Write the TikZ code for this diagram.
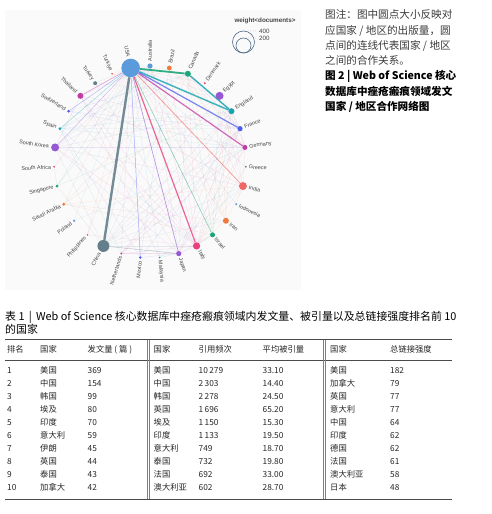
\documentclass[tikz,border=0pt]{standalone}
\usepackage{fontspec}
\setmainfont{Noto Sans CJK SC}
\newfontfamily\labfont{Liberation Sans}

\definecolor{cA}{HTML}{5B9BDC}
\definecolor{cB}{HTML}{EE7B3C}
\definecolor{cC}{HTML}{1BA677}
\definecolor{cD}{HTML}{E8407A}
\definecolor{cE}{HTML}{9559D3}
\definecolor{cF}{HTML}{17A3AF}
\definecolor{cG}{HTML}{4D5CF0}
\definecolor{cH}{HTML}{C13BA4}
\definecolor{cI}{HTML}{647F8B}
\definecolor{cJ}{HTML}{EF6866}
\definecolor{labgray}{HTML}{444444}
\definecolor{legblue}{HTML}{3E5F82}
\definecolor{panelgray}{HTML}{FAFAFA}
\definecolor{notegray}{HTML}{3A3A3A}
\definecolor{rulegray}{HTML}{4A4A4A}

\pgfdeclarelayer{panel}
\pgfdeclarelayer{links}
\pgfsetlayers{panel,links,main}

\tikzset{
  country/.style={circle, inner sep=0pt, draw=none},
  clabel/.style={font=\labfont\fontsize{5.4}{6}\selectfont, text=labgray, inner sep=0pt},
  web/.style={line width=0.32pt, draw opacity=0.15},
  legring/.style={circle, draw=legblue, line width=0.55pt, inner sep=0pt},
  note/.style={font=\fontsize{10.6}{12}\selectfont, text=notegray, inner sep=0pt, anchor=base west},
  figtitle/.style={note, font=\bfseries\fontsize{10.6}{12}\selectfont, text=black},
  tabcap/.style={font=\fontsize{10.9}{12}\selectfont, text=black, inner sep=0pt, anchor=base west},
  cell/.style={font=\fontsize{8.3}{10}\selectfont, text=black!85, inner sep=0pt, anchor=base west},
  hrule/.style={draw=rulegray, line width=0.9pt},
  vrule/.style={draw=gray, line width=0.5pt},
}

\begin{document}
\begin{tikzpicture}[x=1pt,y=1pt]
    \useasboundingbox (0,0) rectangle (491,-514);

    % Panel behind the network
    \begin{pgfonlayer}{panel}
        \fill[panelgray] (5,-10) rectangle (301,-290);
    \end{pgfonlayer}

    % Countries on the circle
    \begin{scope}[shift={(150,-162)}]
        \foreach \k/\txt/\c/\s [count=\i from 0] in {
            aus/Australia/cA/2.6, bra/Brazil/cB/2.4, can/Canada/cC/3.0,
            den/Denmark/cD/1.1, egy/Egypt/cE/4.0, eng/England/cF/3.0,
            fra/France/cG/2.6, ger/Germany/cH/2.5, gre/Greece/cI/1.0,
            ind/India/cJ/4.0, idn/Indonesia/cA/1.1, irn/Iran/cB/3.0,
            isr/Israel/cC/2.5, ita/Italy/cD/3.6, jpn/Japan/cE/2.6,
            mys/Malaysia/cF/1.0, mex/Mexico/cG/1.3, nld/Netherlands/cH/1.1,
            chn/China/cI/6.0, phl/Philippines/cJ/1.0, pol/Poland/cA/1.3,
            sau/Saudi Arabia/cB/1.6, sgp/Singapore/cC/1.6, zaf/South Africa/cD/1.0,
            kor/South Korea/cE/4.0, esp/Spain/cF/1.6, che/Switzerland/cG/1.5,
            tha/Thailand/cH/3.0, tur/Turkey/cI/2.0, tki/Turkiye/cJ/1.0,
            usa/USA/cA/9.3}{
            \pgfmathsetmacro\ang{90-360/31*\i}
            \pgfmathsetmacro\rl{98+\s}
            \node[country, fill=\c, minimum size={2*\s*1pt}] (\k) at (\ang:96) {};
            \ifnum\i<16 \def\anc{west}\pgfmathsetmacro\rot{\ang}
            \else \def\anc{east}\pgfmathsetmacro\rot{\ang+180}\fi
            \node[clabel, anchor=\anc, rotate=\rot] (\k-l) at (\ang:\rl) {\txt};
            \xglobal\colorlet{col-\k}{\c}
        }
    \end{scope}

    % Collaboration links
    \begin{pgfonlayer}{links}
        \foreach \a/\b in {usa/aus, usa/bra, usa/den, usa/egy, usa/gre, usa/idn,
            usa/irn, usa/mys, usa/nld, usa/phl, usa/pol, usa/sau, usa/sgp,
            usa/zaf, usa/tur, usa/tki, aus/chn, can/chn, eng/chn, ger/chn,
            kor/chn, jpn/chn, ind/chn, ita/chn, sgp/chn, fra/chn, egy/chn,
            irn/chn, aus/kor, can/kor, eng/kor, kor/jpn, kor/ita, ger/kor,
            can/isr, can/ita, can/irn, can/jpn, can/ind, can/fra, can/ger,
            can/sau, can/esp, can/che, eng/ita, eng/jpn, eng/ind, eng/esp,
            eng/sgp, eng/irn, eng/fra, eng/ger, eng/isr, eng/nld, eng/egy,
            fra/ita, fra/jpn, fra/ger, fra/esp, fra/che, fra/nld, fra/mex,
            fra/bra, fra/tha, ger/ita, ger/ind, ger/che, ger/nld, ger/bra,
            ger/jpn, ger/esp, ger/pol, ita/esp, bra/ita, ita/ind, ita/isr,
            ita/irn, ita/jpn, ita/nld, ita/gre, ita/tur, ita/phl, ita/tha,
            ind/sau, egy/ind, irn/ind, ind/tha, ind/idn, ind/mys, ind/kor,
            egy/sau, egy/irn, egy/isr, egy/tur, aus/isr, aus/jpn, aus/sgp,
            aus/ita, aus/irn, aus/tha, aus/phl, bra/esp, bra/mex, jpn/tha,
            mys/tha, jpn/mex, jpn/nld, jpn/mys, esp/mex, isr/jpn, isr/sau,
            zaf/sgp, che/ita, nld/esp, kor/tha, sau/irn}
            \draw[web, draw=col-\b] (\a) -- (\b);
        \foreach \a/\b/\w/\o in {usa/chn/2.4pt/0.9, usa/can/1.8pt/0.9,
            can/eng/1.4pt/0.85, usa/eng/1.5pt/0.8, usa/fra/1.2pt/0.75,
            usa/ger/1.2pt/0.75, usa/ita/1.2pt/0.8, usa/ind/0.8pt/0.6,
            usa/jpn/0.7pt/0.6, usa/isr/0.5pt/0.55, usa/mex/0.5pt/0.5,
            usa/tha/0.6pt/0.5, usa/che/0.5pt/0.4, usa/esp/0.5pt/0.4,
            usa/kor/0.5pt/0.4, jpn/chn/0.4pt/0.4}
            \draw[draw=col-\b, line width=\w, draw opacity=\o] (\a) -- (\b);
    \end{pgfonlayer}

    % Legend
    \node[font=\labfont\bfseries\fontsize{6.3}{7}\selectfont, text=labgray] (wtitle) at (265,-21) {weight<documents>};
    \node[legring, minimum size=22pt] (w400) at (243.5,-42) {};
    \node[legring, minimum size=15pt] (w200) at (243.5,-45.5) {};
    \node[clabel, font=\labfont\fontsize{6.2}{7}\selectfont, anchor=west] (l400) at (259,-31) {400};
    \node[clabel, font=\labfont\fontsize{6.2}{7}\selectfont, anchor=west] (l200) at (259,-38) {200};
    \draw[dotted, legblue!70] (w400.north) -- (l400.west);
    \draw[dotted, legblue!70] (w200.north) -- (l200.west);

    % Figure note and title
    \node[note] (note1) at (325,-19) {图注：图中圆点大小反映对};
    \node[note] (note2) at (325,-34.2) {应国家 / 地区的出版量，圆};
    \node[note] (note3) at (325,-49.4) {点间的连线代表国家 / 地区};
    \node[note] (note4) at (325,-64.6) {之间的合作关系。};
    \node[figtitle] (title1) at (325,-79.8) {图 2 | Web of Science 核心};
    \node[figtitle] (title2) at (325,-95) {数据库中痤疮瘢痕领域发文};
    \node[figtitle] (title3) at (325,-110.2) {国家 / 地区合作网络图};

    % Table caption
    \node[tabcap] (tcap1) at (5,-320.5) {表 1 \,|\, Web of Science 核心数据库中痤疮瘢痕领域内发文量、被引量以及总链接强度排名前 10};
    \node[tabcap] (tcap2) at (5,-333.5) {的国家};

    % Table rules
    \draw[hrule] (5,-339.5) -- (452,-339.5);
    \draw[hrule] (5,-360.5) -- (452,-360.5);
    \draw[hrule] (5,-499) -- (452,-499);
    \foreach \x in {147.2, 148.9, 323.4, 325.1}
        \draw[vrule] (\x,-339.5) -- (\x,-499);

    % Table header
    \foreach \x/\t [count=\j] in {7/排名, 40/国家, 87.5/发文量 ( 篇 ), 153.5/国家,
        198.5/引用频次, 262.5/平均被引量, 330/国家, 390/总链接强度}
        \node[cell] (h\j) at (\x,-352.2) {\t};

    % Table rows
    \foreach \r/\ca/\na/\cb/\nb/\av/\cc/\nc in {
        1/美国/369/美国/10\,279/33.10/美国/182,
        2/中国/154/中国/2\,303/14.40/加拿大/79,
        3/韩国/99/韩国/2\,278/24.50/英国/77,
        4/埃及/80/英国/1\,696/65.20/意大利/77,
        5/印度/70/埃及/1\,150/15.30/中国/64,
        6/意大利/59/印度/1\,133/19.50/印度/62,
        7/伊朗/45/意大利/749/18.70/德国/62,
        8/英国/44/泰国/732/19.80/法国/61,
        9/泰国/43/法国/692/33.00/澳大利亚/58,
        10/加拿大/42/澳大利亚/602/28.70/日本/48}{
        \pgfmathsetmacro\yb{-373.9-13*(\r-1)}
        \node[cell] (rk\r) at (7,\yb) {\r};
        \node[cell] (pa\r) at (40,\yb) {\ca};
        \node[cell] (pn\r) at (87.5,\yb) {\na};
        \node[cell] (ca\r) at (153.5,\yb) {\cb};
        \node[cell] (cn\r) at (198.5,\yb) {\nb};
        \node[cell] (av\r) at (262.5,\yb) {\av};
        \node[cell] (la\r) at (330,\yb) {\cc};
        \node[cell] (ln\r) at (390,\yb) {\nc};
    }
\end{tikzpicture}
\end{document}
